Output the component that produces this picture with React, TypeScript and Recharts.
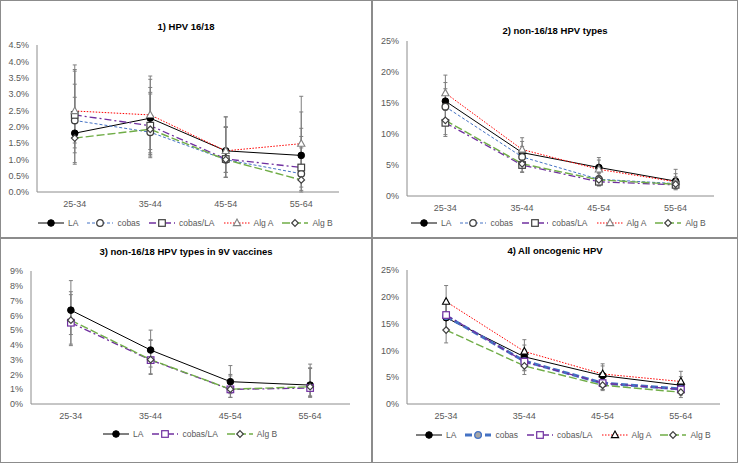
import React from "react";
import { LineChart, Line, XAxis, YAxis, ErrorBar } from "recharts";

const categories = ["25-34", "35-44", "45-54", "55-64"];

// 1) HPV 16/18 (values in %)
const p1LA = [1.8, 2.26, 1.26, 1.12];
const p1LALo = [0.9, 1.2, 0.6, 0.35];
const p1LAHi = [3.3, 3.45, 2.3, 2.45];
const p1Cobas = [2.19, 1.83, 0.99, 0.56];
const p1CobasLo = [1.2, 1.05, 0.45, 0.05];
const p1CobasHi = [3.7, 3.0, 1.98, 1.7];
const p1CobasLA = [2.36, 2.03, 1.01, 0.75];
const p1CobasLALo = [1.35, 1.15, 0.45, 0.15];
const p1CobasLAHi = [3.75, 3.2, 2.0, 1.95];
const p1AlgA = [2.48, 2.36, 1.26, 1.48];
const p1AlgALo = [1.5, 1.3, 0.6, 0.4];
const p1AlgAHi = [3.89, 3.55, 2.3, 2.93];
const p1AlgB = [1.65, 1.92, 0.99, 0.37];
const p1AlgBLo = [0.85, 1.1, 0.45, 0.0];
const p1AlgBHi = [2.9, 3.05, 1.98, 1.35];

// 2) non-16/18 HPV types
const p2LA = [15.3, 7.0, 4.6, 2.4];
const p2LALo = [12.5, 5.3, 3.3, 1.5];
const p2LAHi = [18.3, 8.8, 6.2, 3.6];
const p2Cobas = [14.4, 6.3, 2.7, 2.0];
const p2CobasLo = [11.7, 4.6, 1.8, 1.2];
const p2CobasHi = [17.3, 8.0, 3.8, 3.1];
const p2CobasLA = [11.8, 5.0, 2.3, 1.8];
const p2CobasLALo = [9.6, 3.8, 1.6, 1.0];
const p2CobasLAHi = [14.2, 6.3, 3.3, 2.8];
const p2AlgA = [16.6, 7.5, 4.3, 2.3];
const p2AlgALo = [13.8, 5.8, 3.0, 1.4];
const p2AlgAHi = [19.5, 9.4, 5.8, 4.3];
const p2AlgB = [12.2, 5.2, 2.6, 1.9];
const p2AlgBLo = [9.9, 3.9, 1.7, 1.1];
const p2AlgBHi = [14.6, 6.5, 3.6, 2.9];

// 3) non-16/18 HPV types in 9V vaccines
const p3LA = [6.35, 3.65, 1.51, 1.28];
const p3LALo = [4.7, 2.5, 0.7, 0.55];
const p3LAHi = [8.35, 5.0, 2.6, 2.7];
const p3CobasLA = [5.5, 2.97, 0.99, 1.08];
const p3CobasLALo = [3.95, 2.0, 0.45, 0.45];
const p3CobasLAHi = [7.4, 4.3, 1.9, 2.4];
const p3AlgB = [5.67, 3.0, 1.0, 1.17];
const p3AlgBLo = [4.05, 2.05, 0.45, 0.5];
const p3AlgBHi = [7.6, 4.35, 2.0, 2.45];

// 4) All oncogenic HPV
const p4LA = [16.1, 8.8, 5.3, 3.5];
const p4LALo = [13.6, 7.0, 3.8, 2.3];
const p4LAHi = [18.9, 11.0, 7.1, 5.1];
const p4Cobas = [16.4, 8.0, 3.9, 2.8];
const p4CobasLo = [13.9, 6.3, 2.7, 1.7];
const p4CobasHi = [19.2, 10.1, 5.3, 4.2];
const p4CobasLA = [16.6, 7.9, 3.9, 2.7];
const p4CobasLALo = [14.0, 6.2, 2.7, 1.7];
const p4CobasLAHi = [19.4, 10.0, 5.3, 4.1];
const p4AlgA = [19.1, 9.8, 5.6, 4.2];
const p4AlgALo = [16.2, 7.8, 4.0, 2.8];
const p4AlgAHi = [22.1, 12.0, 7.5, 6.1];
const p4AlgB = [13.8, 7.1, 3.5, 2.2];
const p4AlgBLo = [11.4, 5.5, 2.5, 1.2];
const p4AlgBHi = [16.5, 9.0, 4.8, 3.5];

const p1Ticks = [0, 0.5, 1, 1.5, 2, 2.5, 3, 3.5, 4, 4.5];
const p2Ticks = [0, 5, 10, 15, 20, 25];
const p3Ticks = [0, 1, 2, 3, 4, 5, 6, 7, 8, 9];
const p4Ticks = [0, 5, 10, 15, 20, 25];

const FONT = "'Liberation Sans', Arial, sans-serif";
const TICK = "#595959";
const AXIS = "#8c8c8c";
const ERR = "#7f7f7f";

type Shape = "disc" | "circle" | "square" | "triangle" | "diamond";

type Style = {
  color: string;
  width: number;
  dash?: string;
  shape: Shape;
  mStroke: string;
  mFill: string;
};

type Series = {
  key: string;
  name: string;
  values: number[];
  lo: number[];
  hi: number[];
  style: Style;
};

function Marker({ shape, x, y, stroke, fill }: { shape: Shape; x: number; y: number; stroke: string; fill: string }) {
  const s = 3.3;
  if (shape === "disc") return <circle cx={x} cy={y} r={s} fill={stroke} stroke={stroke} />;
  if (shape === "circle") return <circle cx={x} cy={y} r={s} fill={fill} stroke={stroke} strokeWidth={1.3} />;
  if (shape === "square")
    return <rect x={x - s} y={y - s} width={s * 2} height={s * 2} fill={fill} stroke={stroke} strokeWidth={1.2} />;
  if (shape === "triangle")
    return (
      <polygon
        points={`${x},${y - s * 1.2} ${x + s * 1.1},${y + s * 0.8} ${x - s * 1.1},${y + s * 0.8}`}
        fill={fill}
        stroke={stroke}
        strokeWidth={1.1}
      />
    );
  return (
    <polygon
      points={`${x},${y - s} ${x + s},${y} ${x},${y + s} ${x - s},${y}`}
      fill={fill}
      stroke={stroke}
      strokeWidth={1.2}
    />
  );
}

function buildRows(series: Series[]) {
  return categories.map((cat, i) => {
    const row: any = { cat };
    series.forEach((s) => {
      row[s.key] = s.values[i];
      row[s.key + "Err"] = [s.values[i] - s.lo[i], s.hi[i] - s.values[i]];
    });
    return row;
  });
}

type PanelProps = {
  box: { x: number; y: number; w: number; h: number };
  plot: { l: number; r: number; t: number; b: number };
  title: string;
  titleY: number;
  legendX: number;
  legendY: number;
  ticks: number[];
  decimals: number;
  series: Series[];
};

function Panel({ box, plot, title, titleY, legendX, legendY, ticks, decimals, series }: PanelProps) {
  const xAxisH = 22;
  const data = buildRows(series);
  return (
    <>
      <div
        style={{
          position: "absolute",
          left: box.x,
          top: titleY - 7,
          width: box.w,
          textAlign: "center",
          fontFamily: FONT,
          fontWeight: 700,
          fontSize: 9.5,
          color: "#000",
        }}
      >
        {title}
      </div>
      <div style={{ position: "absolute", left: box.x, top: box.y }}>
        <LineChart
          width={box.w}
          height={box.h}
          data={data}
          margin={{
            top: plot.t - box.y,
            right: box.x + box.w - plot.r,
            left: 0,
            bottom: box.y + box.h - plot.b - xAxisH,
          }}
        >
          <XAxis
            dataKey="cat"
            scale="band"
            height={xAxisH}
            tickLine={false}
            axisLine={{ stroke: AXIS }}
            tick={{ fontSize: 9, fill: TICK, fontFamily: FONT }}
            tickMargin={3}
          />
          <YAxis
            width={plot.l - box.x}
            domain={[ticks[0], ticks[ticks.length - 1]]}
            ticks={ticks}
            interval={0}
            tickLine={false}
            axisLine={{ stroke: AXIS }}
            tick={{ fontSize: 9, fill: TICK, fontFamily: FONT }}
            tickFormatter={(v: number) => v.toFixed(decimals) + "%"}
          />
          {series.map((s) => (
            <Line
              key={s.key}
              dataKey={s.key}
              name={s.name}
              type="linear"
              stroke={s.style.color}
              strokeWidth={s.style.width}
              strokeDasharray={s.style.dash}
              isAnimationActive={false}
              dot={(p: any) =>
                p.cx == null ? (
                  <g key={p.index} />
                ) : (
                  <Marker
                    key={p.index}
                    shape={s.style.shape}
                    x={p.cx}
                    y={p.cy}
                    stroke={s.style.mStroke}
                    fill={s.style.mFill}
                  />
                )
              }
              activeDot={false}
            >
              <ErrorBar dataKey={s.key + "Err"} width={2} stroke={ERR} strokeWidth={1} direction="y" />
            </Line>
          ))}
        </LineChart>
      </div>
      <div
        style={{
          position: "absolute",
          left: legendX,
          top: legendY - 6,
          height: 12,
          display: "flex",
          alignItems: "center",
          fontFamily: FONT,
          fontSize: 8.5,
          color: TICK,
          whiteSpace: "nowrap",
        }}
      >
        {series.map((s) => (
          <div key={s.key} style={{ display: "flex", alignItems: "center", marginRight: 9 }}>
            <svg width={26} height={10} style={{ marginRight: 4 }}>
              <line
                x1={0}
                y1={5}
                x2={26}
                y2={5}
                stroke={s.style.color}
                strokeWidth={s.style.width}
                strokeDasharray={s.style.dash}
              />
              <Marker shape={s.style.shape} x={13} y={5} stroke={s.style.mStroke} fill={s.style.mFill} />
            </svg>
            <span>{s.name}</span>
          </div>
        ))}
      </div>
    </>
  );
}

const laStyle: Style = { color: "#000000", width: 1, shape: "disc", mStroke: "#000000", mFill: "#000000" };
const cobasStyle: Style = { color: "#4472C4", width: 1, dash: "3 2", shape: "circle", mStroke: "#404040", mFill: "#ffffff" };
const cobasLAStyle: Style = { color: "#7030A0", width: 1.3, dash: "7 3 2 3", shape: "square", mStroke: "#404040", mFill: "#ffffff" };
const algAStyle: Style = { color: "#FF0000", width: 1, dash: "1.5 1.5", shape: "triangle", mStroke: "#808080", mFill: "#ffffff" };
const algBStyle: Style = { color: "#70AD47", width: 1.4, dash: "8 3", shape: "diamond", mStroke: "#404040", mFill: "#ffffff" };
const cobasLAPurple: Style = { ...cobasLAStyle, mStroke: "#7030A0" };
const cobasThick: Style = { color: "#4472C4", width: 3, dash: "7 3", shape: "circle", mStroke: "#4472C4", mFill: "#a6a6a6" };
const algABlack: Style = { ...algAStyle, mStroke: "#000000" };

const p1Series: Series[] = [
  { key: "LA", name: "LA", values: p1LA, lo: p1LALo, hi: p1LAHi, style: laStyle },
  { key: "cobas", name: "cobas", values: p1Cobas, lo: p1CobasLo, hi: p1CobasHi, style: cobasStyle },
  { key: "cobasLA", name: "cobas/LA", values: p1CobasLA, lo: p1CobasLALo, hi: p1CobasLAHi, style: cobasLAStyle },
  { key: "algA", name: "Alg A", values: p1AlgA, lo: p1AlgALo, hi: p1AlgAHi, style: algAStyle },
  { key: "algB", name: "Alg B", values: p1AlgB, lo: p1AlgBLo, hi: p1AlgBHi, style: algBStyle },
];

const p2Series: Series[] = [
  { key: "LA", name: "LA", values: p2LA, lo: p2LALo, hi: p2LAHi, style: laStyle },
  { key: "cobas", name: "cobas", values: p2Cobas, lo: p2CobasLo, hi: p2CobasHi, style: cobasStyle },
  { key: "cobasLA", name: "cobas/LA", values: p2CobasLA, lo: p2CobasLALo, hi: p2CobasLAHi, style: cobasLAStyle },
  { key: "algA", name: "Alg A", values: p2AlgA, lo: p2AlgALo, hi: p2AlgAHi, style: algAStyle },
  { key: "algB", name: "Alg B", values: p2AlgB, lo: p2AlgBLo, hi: p2AlgBHi, style: algBStyle },
];

const p3Series: Series[] = [
  { key: "LA", name: "LA", values: p3LA, lo: p3LALo, hi: p3LAHi, style: laStyle },
  { key: "cobasLA", name: "cobas/LA", values: p3CobasLA, lo: p3CobasLALo, hi: p3CobasLAHi, style: cobasLAPurple },
  { key: "algB", name: "Alg B", values: p3AlgB, lo: p3AlgBLo, hi: p3AlgBHi, style: algBStyle },
];

const p4Series: Series[] = [
  { key: "LA", name: "LA", values: p4LA, lo: p4LALo, hi: p4LAHi, style: laStyle },
  { key: "cobas", name: "cobas", values: p4Cobas, lo: p4CobasLo, hi: p4CobasHi, style: cobasThick },
  { key: "cobasLA", name: "cobas/LA", values: p4CobasLA, lo: p4CobasLALo, hi: p4CobasLAHi, style: cobasLAPurple },
  { key: "algA", name: "Alg A", values: p4AlgA, lo: p4AlgALo, hi: p4AlgAHi, style: algABlack },
  { key: "algB", name: "Alg B", values: p4AlgB, lo: p4AlgBLo, hi: p4AlgBHi, style: algBStyle },
];

export default function App() {
  return (
    <div
      style={{
        position: "absolute",
        left: 0,
        top: 0,
        width: 738,
        height: 463,
        background: "#ffffff",
        overflow: "hidden",
      }}
    >
      {/* panel frames */}
      <div style={{ position: "absolute", left: 0, top: 0, width: 738, height: 463, boxSizing: "border-box", border: "1px solid #8c8c8c" }} />
      <div style={{ position: "absolute", left: 371, top: 0, width: 2, height: 463, background: "#8c8c8c" }} />
      <div style={{ position: "absolute", left: 0, top: 237, width: 738, height: 2, background: "#8c8c8c" }} />

      <Panel
        box={{ x: 0, y: 0, w: 372, h: 238 }}
        plot={{ l: 37, r: 339, t: 45, b: 192 }}
        title="1) HPV 16/18"
        titleY={28}
        legendX={38}
        legendY={223}
        ticks={p1Ticks}
        decimals={1}
        series={p1Series}
      />
      <Panel
        box={{ x: 372, y: 0, w: 366, h: 238 }}
        plot={{ l: 407, r: 714, t: 41, b: 196 }}
        title="2) non-16/18 HPV types"
        titleY={32}
        legendX={411}
        legendY={223}
        ticks={p2Ticks}
        decimals={0}
        series={p2Series}
      />
      <Panel
        box={{ x: 0, y: 238, w: 372, h: 225 }}
        plot={{ l: 31, r: 350, t: 271, b: 404 }}
        title="3) non-16/18 HPV types in 9V vaccines"
        titleY={253}
        legendX={103}
        legendY={434}
        ticks={p3Ticks}
        decimals={0}
        series={p3Series}
      />
      <Panel
        box={{ x: 372, y: 238, w: 366, h: 225 }}
        plot={{ l: 407, r: 720, t: 270, b: 404 }}
        title="4) All oncogenic HPV"
        titleY={252}
        legendX={416}
        legendY={435}
        ticks={p4Ticks}
        decimals={0}
        series={p4Series}
      />
    </div>
  );
}
